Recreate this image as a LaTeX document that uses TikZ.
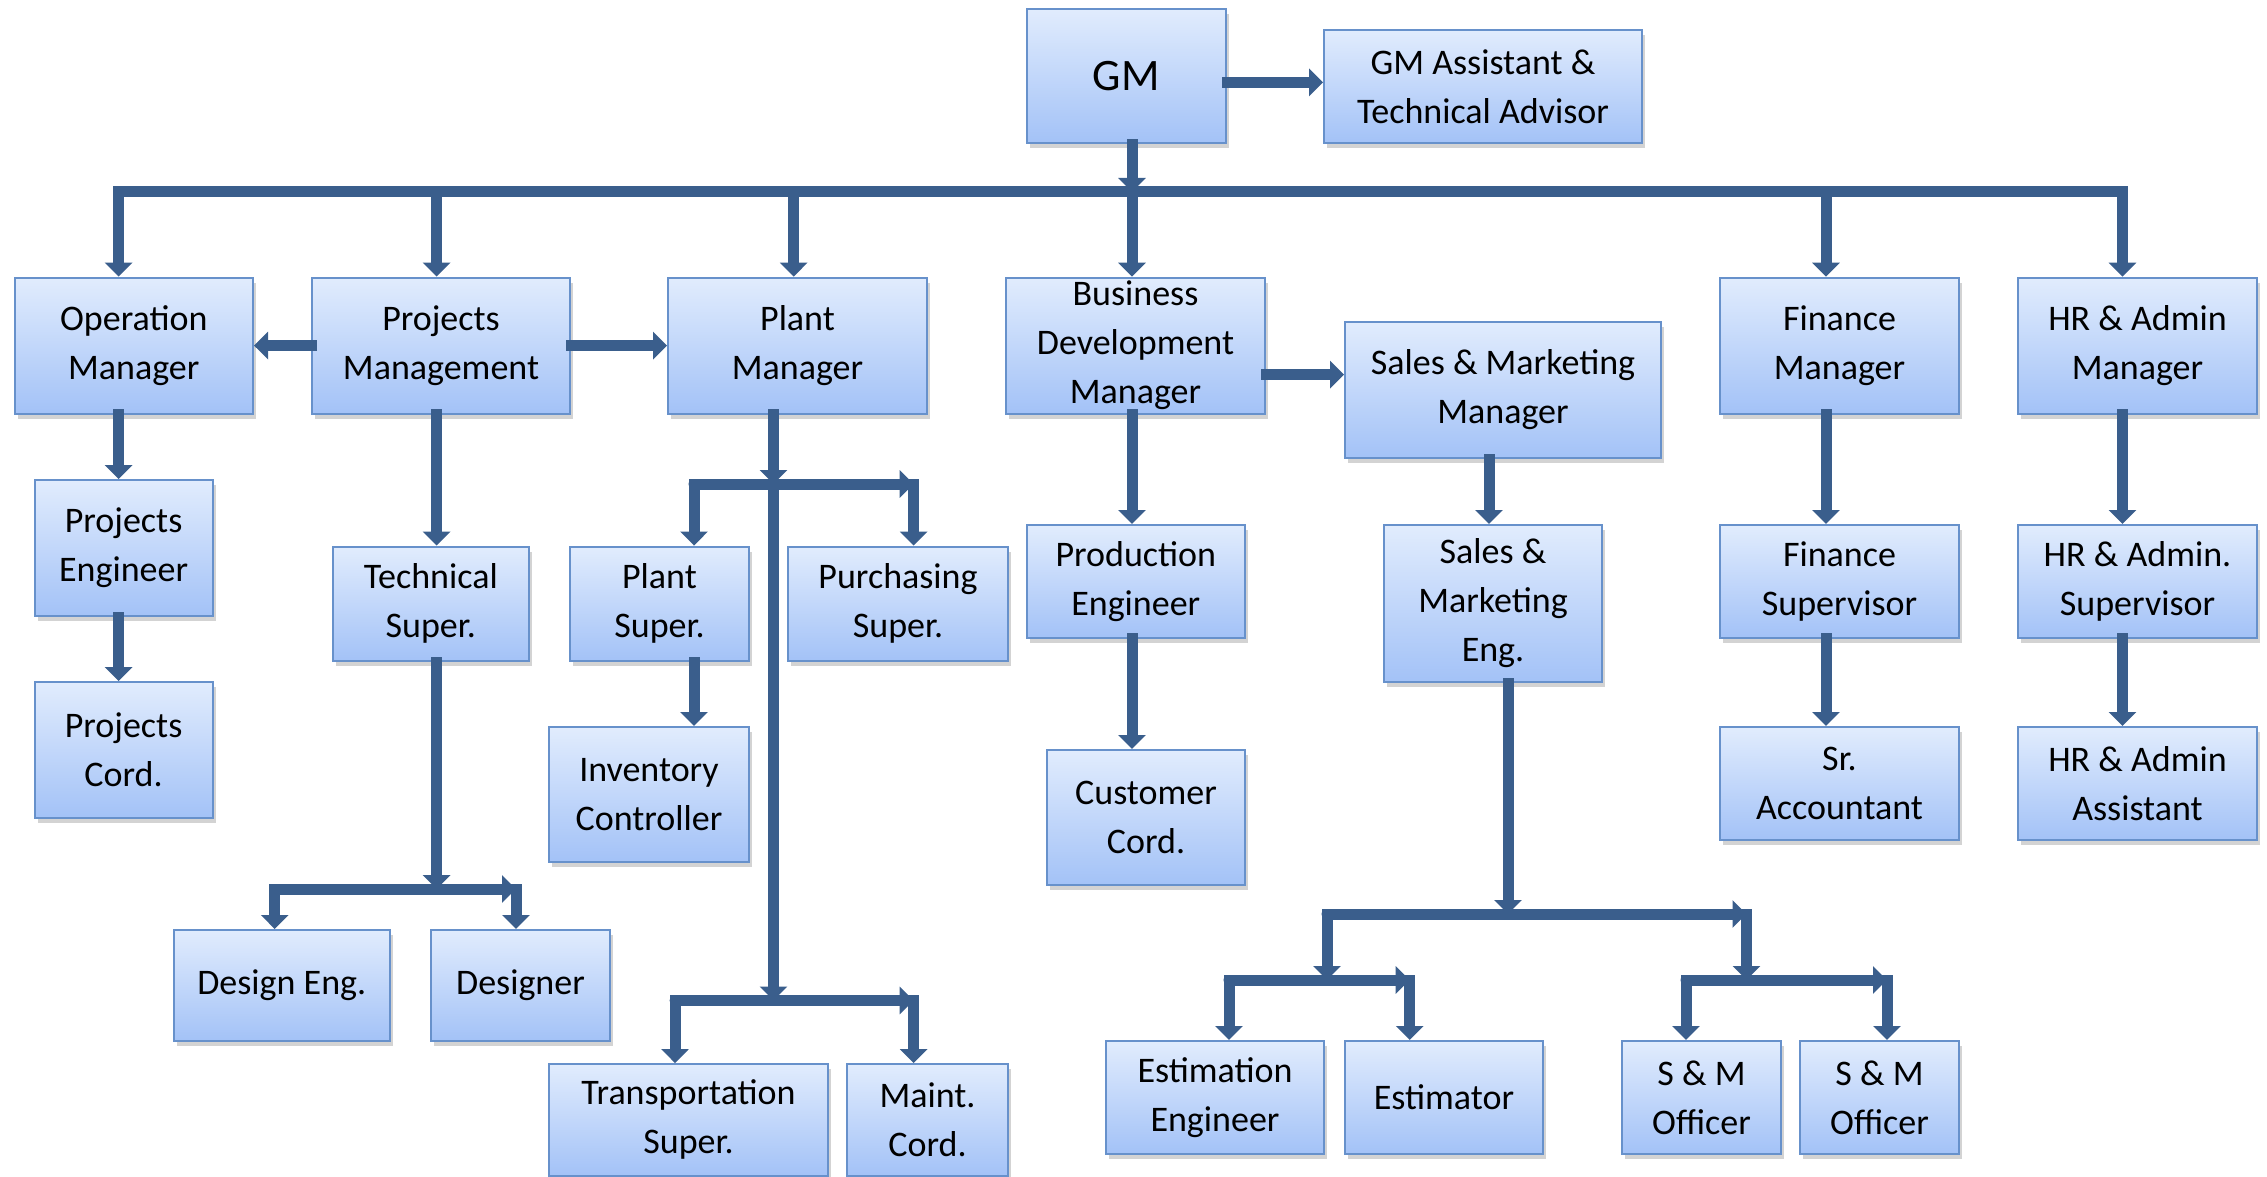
\documentclass[tikz,border=0pt]{standalone}
\usepackage{fontspec}
\setmainfont{Carlito}
\usetikzlibrary{arrows.meta,shadows}
\definecolor{linec}{HTML}{3A5E8C}
\definecolor{boxtop}{HTML}{E1ECFD}
\definecolor{boxbot}{HTML}{A3C2F7}
\definecolor{boxborder}{HTML}{6791CB}
\tikzset{
  box/.style={draw=boxborder, line width=2pt, top color=boxtop, bottom color=boxbot,
    drop shadow={opacity=0.35, shadow xshift=3pt, shadow yshift=-5pt},
    align=center, inner sep=0pt, text=black, font=\fontsize{36}{49}\selectfont},
  sz/.style 2 args={minimum width=#1pt, minimum height=#2pt},
  arr/.style={draw=linec, line width=11pt, line cap=rect, -{Triangle[width=27pt,length=14pt]}},
  busarr/.style={draw=linec, line width=11pt, line cap=round, -{Triangle[width=27pt,length=14pt]}},
  mainbus/.style={draw=linec, line width=11pt, line cap=rect},
}
\begin{document}
\begin{tikzpicture}[x=1pt,y=-1pt]
\useasboundingbox (0,0) rectangle (2267,1177);
% top
\node[box, sz={199.5}{134.3}, font=\fontsize{45}{54}\selectfont] (gm) at (1126.3,75.9) {GM};
\node[box, sz={318}{113}] (gma) at (1483,86.5) {GM Assistant \&\\Technical Advisor};
% level 1
\node[box, sz={238.5}{136}] (op) at (133.8,345.6) {Operation\\Manager};
\node[box, sz={258}{136}] (pm) at (441,345.6) {Projects\\Management};
\node[box, sz={259}{136}] (plant) at (797.5,345.6) {Plant\\Manager};
\node[box, sz={259}{136}] (bd) at (1135.5,345.6) {Business\\Development\\Manager};
\node[box, sz={316}{136}] (smm) at (1503,390) {Sales \& Marketing\\Manager};
\node[box, sz={239}{136}] (fin) at (1839.5,345.6) {Finance\\Manager};
\node[box, sz={239}{136}] (hr) at (2137.5,345.6) {HR \& Admin\\Manager};
% level 2+
\node[box, sz={178}{136}] (pe) at (123.6,548) {Projects\\Engineer};
\node[box, sz={178}{136}] (pc) at (123.6,750) {Projects\\Cord.};
\node[box, sz={196.5}{114.5}] (ts) at (430.8,603.8) {Technical\\Super.};
\node[box, sz={216.5}{111}] (de) at (281.8,985.5) {Design Eng.};
\node[box, sz={179}{111}] (dsg) at (520.5,985.5) {Designer};
\node[box, sz={179}{114.5}] (ps) at (659.5,603.8) {Plant\\Super.};
\node[box, sz={220}{114.5}] (pur) at (898,603.8) {Purchasing\\Super.};
\node[box, sz={200}{135}] (inv) at (649,794.5) {Inventory\\Controller};
\node[box, sz={279}{111.5}] (trs) at (688.5,1119.8) {Transportation\\Super.};
\node[box, sz={161}{111.5}] (mnt) at (927.5,1119.8) {Maint.\\Cord.};
\node[box, sz={218.5}{112.6}] (pre) at (1135.8,581.3) {Production\\Engineer};
\node[box, sz={198}{135}] (cc) at (1146,817.5) {Customer\\Cord.};
\node[box, sz={218}{157}] (sme) at (1493,603.5) {Sales \&\\Marketing\\Eng.};
\node[box, sz={218}{113}] (ee) at (1215,1097.5) {Estimation\\Engineer};
\node[box, sz={198}{113}] (est) at (1444,1097.5) {Estimator};
\node[box, sz={159}{113}] (smo1) at (1701.5,1097.5) {S \& M\\Officer};
\node[box, sz={159}{113}] (smo2) at (1879.5,1097.5) {S \& M\\Officer};
\node[box, sz={239}{112.6}] (fs) at (1839.5,581.3) {Finance\\Supervisor};
\node[box, sz={239}{113}] (sa) at (1839.5,783.5) {Sr.\\Accountant};
\node[box, sz={239}{112.6}] (hs) at (2137.5,581.3) {HR \& Admin.\\Supervisor};
\node[box, sz={239}{113}] (ha) at (2137.5,783.5) {HR \& Admin\\Assistant};

% main bus
\coordinate (bOp) at (118.6,192);
\coordinate (bPM) at (436.6,192);
\coordinate (bPl) at (793.7,192);
\coordinate (bBD) at (1132,192);
\coordinate (bFi) at (1826,192);
\coordinate (bHR) at (2122.5,192);
\draw[mainbus] (bOp) -- (bHR);
\draw[arr] (gm.south -| bBD) -- (bBD);
\draw[arr] (bOp) -- (bOp |- op.north);
\draw[arr] (bPM) -- (bPM |- pm.north);
\draw[arr] (bPl) -- (bPl |- plant.north);
\draw[arr] (bBD) -- (bBD |- bd.north);
\draw[arr] (bFi) -- (bFi |- fin.north);
\draw[arr] (bHR) -- (bHR |- hr.north);
% horizontal links
\draw[arr] ([yshift=-6.5pt]gm.east) -- ([yshift=-6.5pt]gm.east -| gma.west);
\draw[arr] (pm.west) -- (op.east);
\draw[arr] (pm.east) -- (plant.west);
\draw[arr] ([yshift=-29pt]bd.east) -- ([yshift=-29pt]bd.east -| smm.west);
% operation
\draw[arr] (op.south -| bOp) -- (pe.north -| bOp);
\draw[arr] (pe.south -| bOp) -- (pc.north -| bOp);
% projects management
\draw[arr] (pm.south -| bPM) -- (ts.north -| bPM);
\coordinate (tsb) at (436.6,889);
\coordinate (tsL) at (274.7,889);
\coordinate (tsR) at (516,889);
\draw[arr] (ts.south -| tsb) -- (tsb);
\draw[busarr] (tsL) -- (tsR);
\draw[arr] (tsL) -- (tsL |- de.north);
\draw[arr] (tsR) -- (tsR |- dsg.north);
% plant manager
\coordinate (pvU) at (773.5,484);
\coordinate (pvL) at (773.5,1000.5);
\coordinate (puL) at (694,484);
\coordinate (puR) at (913.7,484);
\coordinate (plL) at (675,1000.5);
\coordinate (plR) at (913.7,1000.5);
\draw[arr] (plant.south -| pvU) -- (pvU);
\draw[arr] (pvU) -- (pvL);
\draw[busarr] (puL) -- (puR);
\draw[arr] (puL) -- (puL |- ps.north);
\draw[arr] (puR) -- (puR |- pur.north);
\draw[arr] (ps.south -| puL) -- (inv.north -| puL);
\draw[busarr] (plL) -- (plR);
\draw[arr] (plL) -- (plL |- trs.north);
\draw[arr] (plR) -- (plR |- mnt.north);
% business development
\draw[arr] (bd.south -| bBD) -- (pre.north -| bBD);
\draw[arr] (pre.south -| bBD) -- (cc.north -| bBD);
% sales & marketing
\coordinate (xsm) at (1489,0);
\draw[arr] (smm.south -| xsm) -- (sme.north -| xsm);
\coordinate (smb) at (1508,914);
\coordinate (smL) at (1327,914);
\coordinate (smR) at (1746.5,914);
\coordinate (sLb) at (1327,980);
\coordinate (sRb) at (1746.5,980);
\coordinate (sLL) at (1229,980);
\coordinate (sLR) at (1409.7,980);
\coordinate (sRL) at (1686,980);
\coordinate (sRR) at (1887,980);
\draw[arr] (sme.south -| smb) -- (smb);
\draw[busarr] (smL) -- (smR);
\draw[arr] (smL) -- (sLb);
\draw[arr] (smR) -- (sRb);
\draw[busarr] (sLL) -- (sLR);
\draw[busarr] (sRL) -- (sRR);
\draw[arr] (sLL) -- (sLL |- ee.north);
\draw[arr] (sLR) -- (sLR |- est.north);
\draw[arr] (sRL) -- (sRL |- smo1.north);
\draw[arr] (sRR) -- (sRR |- smo2.north);
% finance
\draw[arr] (fin.south -| bFi) -- (fs.north -| bFi);
\draw[arr] (fs.south -| bFi) -- (sa.north -| bFi);
% HR
\draw[arr] (hr.south -| bHR) -- (hs.north -| bHR);
\draw[arr] (hs.south -| bHR) -- (ha.north -| bHR);
\end{tikzpicture}
\end{document}
